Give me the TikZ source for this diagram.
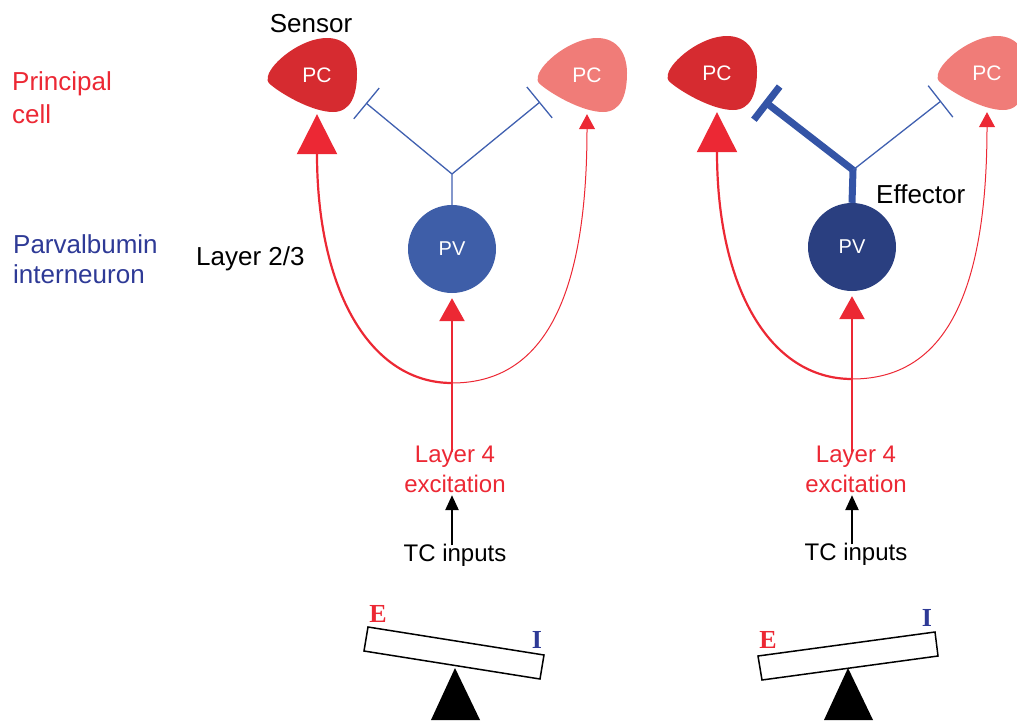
\documentclass[tikz,border=0pt]{standalone}
\usepackage{fontspec}
\setmainfont{Liberation Sans}
\newfontfamily\balancefont{Liberation Serif}
\usetikzlibrary{arrows.meta}
\definecolor{excred}{RGB}{236,40,52}
\definecolor{pcdark}{RGB}{214,43,48}
\definecolor{pclight}{RGB}{240,124,120}
\definecolor{pvmid}{RGB}{62,94,168}
\definecolor{pvdark}{RGB}{42,63,128}
\definecolor{inhblue}{RGB}{64,96,176}
\definecolor{inhthick}{RGB}{52,84,166}
\definecolor{textblue}{RGB}{46,58,150}
\newcommand{\pcbody}[2]{\fill[#2, shift={(#1)}] (-45,1) .. controls (-42,-12) and (-12,-37) .. (14,-37) .. controls (34,-37) and (44,-22) .. (44,-2) .. controls (44,20) and (38,37) .. (20,37) .. controls (0,37) and (-30,20) .. (-42,10) .. controls (-46,7) and (-46,4) .. cycle;}
\tikzset{
  pc/.style={minimum width=80pt, minimum height=78pt, inner sep=0pt, text=white, font=\fontsize{21}{21}\selectfont},
  pv/.style={circle, minimum size=88pt, inner sep=0pt, text=white, font=\fontsize{20}{20}\selectfont},
  lbl/.style={inner sep=0pt, font=\fontsize{26}{30}\selectfont},
  lowlbl/.style={inner sep=0pt, align=center, font=\fontsize{24}{30}\selectfont},
  balance/.style={inner sep=0pt, font=\fontsize{26}{26}\balancefont\bfseries},
  exc/.style={excred, line width=2.5pt},
  inh/.style={inhblue, line width=1.3pt},
  bigtip/.style={-{Triangle[width=40pt,length=40pt]}},
  midtip/.style={-{Triangle[width=25pt,length=23pt]}},
  smalltip/.style={-{Triangle[width=16pt,length=15pt]}},
}
\begin{document}
\begin{tikzpicture}[x=1pt,y=-1pt]
\useasboundingbox (0,0) rectangle (1017,720);

\node[lbl, text=excred, align=left, anchor=north west, font=\fontsize{26}{33}\selectfont] (pcname) at (12,71) {Principal\\cell};
\node[lbl, text=textblue, align=left, anchor=north west] (pvname) at (13,234) {Parvalbumin\\interneuron};
\node[lbl, anchor=base west] (layer23) at (196,265) {Layer 2/3};

\pcbody{313,75}{pcdark}
\node[pc] (pcA) at (317,75) {PC};
\pcbody{583,75}{pclight}
\node[pc] (pcB) at (587,75) {PC};
\node[lbl, anchor=base] (sensor) at (311,32) {Sensor};
\node[pv, fill=pvmid] (pvA) at (452,249) {PV};
\coordinate (jA) at (452,174);
\coordinate (tlA) at (366,103);
\coordinate (trA) at (540,102);
\draw[inh, {Bar[width=40pt]}-] (tlA) -- (jA) -- (pvA.north);
\draw[inh, -{Bar[width=40pt]}] (jA) -- (trA);
\node[lowlbl, text=excred, anchor=north] (l4A) at (455,446) {Layer 4\\excitation};
\node[lowlbl, anchor=base] (tcA) at (455,561) {TC inputs};
\coordinate (uA) at (452,383);
\draw[exc, midtip, shorten <=-6pt, shorten >=5pt] (l4A.north -| pvA) -- (pvA.south);
\draw[exc, line width=2.2pt, bigtip] (uA) .. controls +(-82,0) and +(0,176) .. (pcA.south);
\draw[exc, line width=1pt, smalltip] (uA) .. controls +(82,0) and +(0,201) .. (pcB.south);
\draw[line width=2.5pt, -{Triangle[width=13pt,length=15pt]}, shorten >=2pt, shorten <=-2pt] (tcA.north -| pvA) -- (l4A.south -| pvA);

\pcbody{713,73}{pcdark}
\node[pc] (pcC) at (717,73) {PC};
\pcbody{983,73}{pclight}
\node[pc] (pcD) at (987,73) {PC};
\node[pv, fill=pvdark] (pvB) at (852,247) {PV};
\node[lbl, anchor=base west] (effector) at (876,203) {Effector};
\coordinate (jB) at (853,170);
\coordinate (tlB) at (764,101);
\coordinate (trB) at (941,101);
\draw[inhthick, line width=7pt, {Bar[width=42pt]}-] (tlB) -- (jB) -- (pvB.north);
\draw[inh, -{Bar[width=40pt]}] (jB) -- (trB);
\node[lowlbl, text=excred, anchor=north] (l4B) at (856,446) {Layer 4\\excitation};
\node[lowlbl, anchor=base] (tcB) at (856,560) {TC inputs};
\coordinate (uB) at (852,379);
\draw[exc, midtip, shorten <=-6pt, shorten >=5pt] (l4B.north -| pvB) -- (pvB.south);
\draw[exc, line width=2.2pt, bigtip] (uB) .. controls +(-82,0) and +(0,176) .. (pcC.south);
\draw[exc, line width=1pt, smalltip] (uB) .. controls +(82,0) and +(0,201) .. (pcD.south);
\draw[line width=2.5pt, -{Triangle[width=13pt,length=15pt]}, shorten >=2pt, shorten <=-2pt] (tcB.north -| pvB) -- (l4B.south -| pvB);

\draw[line width=1.5pt, fill=white] (368,627) -- (544,655) -- (540,679) -- (364,651) -- cycle;
\fill (455,668) -- (480,720) -- (431,720) -- cycle;
\node[balance, text=excred] (eA) at (378,614) {E};
\node[balance, text=textblue] (iA) at (537,640) {I};

\draw[line width=1.5pt, fill=white] (758,656) -- (935,632) -- (938,656) -- (762,680) -- cycle;
\fill (848,668) -- (873,720) -- (824,720) -- cycle;
\node[balance, text=excred] (eB) at (768,640) {E};
\node[balance, text=textblue] (iB) at (927,618) {I};
\end{tikzpicture}
\end{document}
